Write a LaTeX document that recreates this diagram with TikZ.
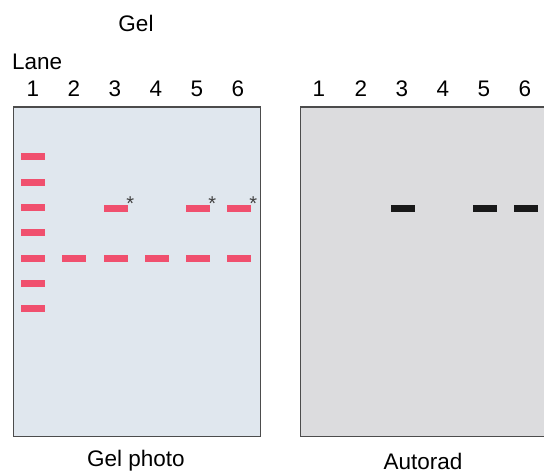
\documentclass[tikz,border=0pt]{standalone}
\usepackage{fontspec}
\setmainfont{Liberation Sans}
\begin{document}
\begin{tikzpicture}[x=1pt,y=-1pt,
  lbl/.style={font=\fontsize{22.5}{25}\selectfont, inner sep=0pt},
  gelbox/.style={draw=black!70, line width=1.3pt, fill=gelblue},
  radbox/.style={draw=black!70, line width=1.3pt, fill=radgray},
  pband/.style={fill=bandpink, draw=none, minimum width=24pt, minimum height=7pt, inner sep=0pt},
  kband/.style={fill=black!90, draw=none, minimum width=24pt, minimum height=7pt, inner sep=0pt},
  star/.style={font=\fontsize{20}{20}\selectfont, text=black!75, inner sep=0pt}]
\definecolor{gelblue}{HTML}{E0E7EE}
\definecolor{radgray}{HTML}{DCDCDE}
\definecolor{bandpink}{HTML}{F0506E}
\useasboundingbox (0,0) rectangle (544,473);
% boxes
\node[gelbox, minimum width=247pt, minimum height=329pt, inner sep=0pt, anchor=north west] (gel) at (12.5,106.5) {};
\begin{scope}
\clip (0,0) rectangle (544,473);
\node[radbox, minimum width=250pt, minimum height=329pt, inner sep=0pt, anchor=north west] (rad) at (300,106.5) {};
\end{scope}
% titles
\node[lbl] (geltitle) at (136,23) {Gel};
\node[lbl, anchor=west] (lane) at (12,62) {Lane};
\foreach \n/\x in {1/33,2/74,3/115,4/156,5/197,6/238}{
  \node[lbl] (gn\n) at (\x,89) {\n};
}
\foreach \n/\x in {1/319,2/361,3/402,4/443,5/484,6/525}{
  \node[lbl] (an\n) at (\x,89) {\n};
}
% lane 1 ladder
\foreach \i/\y in {1/157,2/182.3,3/208,4/233,5/258.5,6/284,7/309}{
  \node[pband] (l1b\i) at (33,\y) {};
}
% lane 2-6 lower band
\foreach \n/\x in {2/74,3/116,4/157,5/198,6/239}{
  \node[pband] (lo\n) at (\x,258.5) {};
}
% upper bands with asterisks
\foreach \n/\x in {3/116,5/198,6/239}{
  \node[pband] (up\n) at (\x,208.5) {};
  \node[star, anchor=south west] (st\n) at ([xshift=-2pt,yshift=-6pt]up\n.north east) {*};
}
% autorad bands
\foreach \n/\x in {3/403,5/485,6/526}{
  \node[kband] (ar\n) at (\x,208.5) {};
}
% captions
\node[lbl] (cap1) at (136,461) {Gel photo};
\node[lbl] (cap2) at (423,461) {Autorad};
\end{tikzpicture}
\end{document}
